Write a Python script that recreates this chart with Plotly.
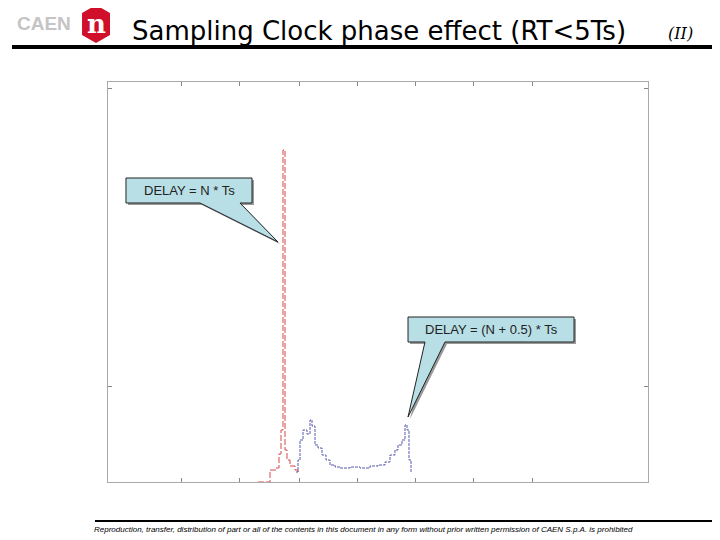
import plotly.graph_objects as go

# histogram bins (channel offset) and counts
red_x = [150, 162, 168, 171, 173, 175, 177, 179, 182, 187, 190]
red_y = [0, 3, 3.5, 7, 13, 83, 8, 5.5, 4, 3, 2.5]
blue_x = [188, 190, 192, 195, 199, 202, 204, 207, 210, 214, 218, 222, 227, 232,
          242, 252, 262, 270, 277, 282, 287, 290, 294, 297, 299, 301, 303]
blue_y = [2.5, 5.5, 10.5, 13, 12, 15.5, 14, 9.25, 8.5, 6.75, 5.5, 4.25, 3.75, 3.5,
          3.75, 3.5, 4, 4.25, 5, 6.75, 8, 9.25, 10.5, 14.25, 13, 5.5, 2.5]
x_ticks = [73, 131, 191, 249, 307, 365, 424]
y_ticks = [24, 98.5]

# page offset of the rendered figure (body margin)
OFF = 8
L, R, T, B = 108, 648, 82, 482


def px(x):
    return (x - L) / (R - L)


def py(y):
    return (B - y) / (B - T)


def path(pts):
    return "M" + " L".join(f"{px(a):.4f},{py(b):.4f}" for a, b in pts) + " Z"


def note(x, y, text, font, xanchor='center'):
    return dict(x=px(x), y=py(y), xref='paper', yref='paper', text=text,
                showarrow=False, xanchor=xanchor, yanchor='middle', font=font)


fig = go.Figure()
fig.add_trace(go.Scatter(x=red_x, y=red_y, mode='lines', line_shape='hv',
                         line=dict(color='#d84848', width=1, dash='6px,2px')))
fig.add_trace(go.Scatter(x=blue_x, y=blue_y, mode='lines', line_shape='hv',
                         line=dict(color='#5858b0', width=1, dash='3px,1px')))

shapes = []
callouts = [
    ([(126, 178), (252, 178), (252, 203), (240, 203), (278, 242), (200, 203), (126, 203)],
     "DELAY = N * Ts", 189, 190),
    ([(408, 317), (574, 317), (574, 342), (445, 342), (408, 417), (425, 342), (408, 342)],
     "DELAY = (N + 0.5) * Ts", 491, 329),
]
annotations = []
for pts, text, tx, ty in callouts:
    shadow = [(a + 2, b + 2) for a, b in pts]
    shapes.append(dict(type='path', xref='paper', yref='paper', path=path(shadow),
                       fillcolor='#9a9a9a', line=dict(width=0)))
    shapes.append(dict(type='path', xref='paper', yref='paper', path=path(pts),
                       fillcolor='#b9dfe6', line=dict(color='#222', width=1)))
    annotations.append(note(tx, ty, text, dict(family='Arial, Liberation Sans',
                                               size=13, color='#222')))

# header and footer decoration
shapes.append(dict(type='line', xref='paper', yref='paper', x0=px(12), x1=px(712),
                   y0=py(47), y1=py(47), line=dict(color='black', width=4)))
shapes.append(dict(type='line', xref='paper', yref='paper', x0=px(95), x1=px(712),
                   y0=py(521), y1=py(521), line=dict(color='black', width=2)))
shapes.append(dict(type='path', xref='paper', yref='paper',
                   path=path([(96, 5), (110, 13), (110, 35), (96, 43), (82, 35), (82, 13)]),
                   fillcolor='#d0102a', line=dict(width=0)))
annotations += [
    note(96, 24, '<b>n</b>', dict(family='DejaVu Serif', size=26, color='white')),
    note(44, 23, '<b>CAEN</b>', dict(family='Liberation Sans', size=19, color='#c4c4c4')),
    note(130, 31, 'Sampling Clock phase effect (RT&lt;5Ts)',
         dict(family='DejaVu Sans', size=26, color='black'), 'left'),
    note(666, 34, '<i>(II)</i>', dict(family='DejaVu Serif', size=16, color='black'), 'left'),
    note(92, 529, '<i>Reproduction, transfer, distribution of part or all of the contents in '
                  'this document in any form without prior written permission of CAEN S.p.A. '
                  'is prohibited</i>',
         dict(family='Liberation Sans', size=8, color='black'), 'left'),
]

axis_style = dict(showgrid=False, zeroline=False, showline=True, linecolor='#aaa',
                  linewidth=1, mirror='ticks', ticks='inside', ticklen=4,
                  tickcolor='#888', showticklabels=False)
fig.update_layout(
    width=720 - OFF, height=540 - OFF, showlegend=False,
    margin=dict(l=L - OFF, r=720 - R, t=T - OFF, b=540 - B, pad=0),
    paper_bgcolor='white', plot_bgcolor='white',
    xaxis=dict(range=[0, 540], tickvals=x_ticks, **axis_style),
    yaxis=dict(range=[0, 100], tickvals=y_ticks, **axis_style),
    shapes=shapes, annotations=annotations,
)

fig.write_html("out.html")
